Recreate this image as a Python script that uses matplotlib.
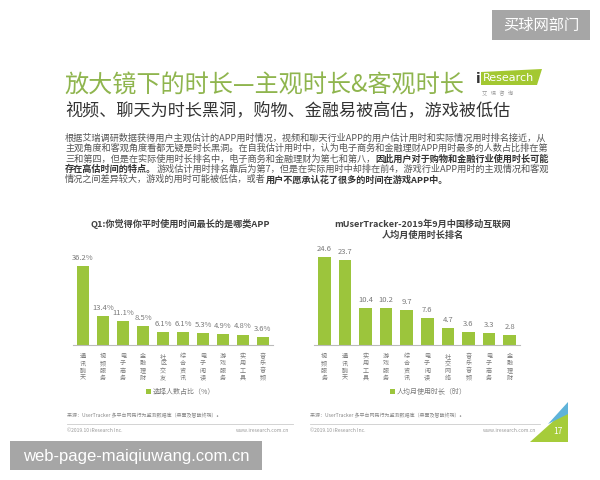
import matplotlib
matplotlib.use("Agg")
import matplotlib.pyplot as plt
from matplotlib.patches import Rectangle, Polygon

plt.rcParams['font.family'] = ['Noto Sans CJK SC', 'DejaVu Sans']

# data
q1_cats = ['通讯聊天', '视频服务', '电子商务', '金融理财', '社区交友',
           '综合资讯', '电子阅读', '游戏服务', '实用工具', '音乐音频']
q1_vals = [36.2, 13.4, 11.1, 8.5, 6.1, 6.1, 5.3, 4.9, 4.8, 3.6]

mut_cats = ['视频服务', '通讯聊天', '实用工具', '游戏服务', '综合资讯',
            '电子阅读', '社交网络', '音乐音频', '电子商务', '金融理财']
mut_vals = [24.6, 23.7, 10.4, 10.2, 9.7, 7.6, 4.7, 3.6, 3.3, 2.8]

title = '放大镜下的时长—主观时长&客观时长'
subtitle = '视频、聊天为时长黑洞，购物、金融易被高估，游戏被低估'
# paragraph lines: list of (text, bold) segments
para = [
    [('根据艾瑞调研数据获得用户主观估计的APP用时情况，视频和聊天行业APP的用户估计用时和实际情况用时排名接近，从', False)],
    [('主观角度和客观角度看都无疑是时长黑洞。在自我估计用时中，认为电子商务和金融理财APP用时最多的人数占比排在第', False)],
    [('三和第四，但是在实际使用时长排名中，电子商务和金融理财为第七和第八，', False),
     ('因此用户对于购物和金融行业使用时长可能', True)],
    [('存在高估时间的特点。', True),
     ('游戏估计用时排名靠后为第7，但是在实际用时中却排在前4，游戏行业APP用时的主观情况和客观', False)],
    [('情况之间差异较大，游戏的用时可能被低估，或者', False),
     ('用户不愿承认花了很多的时间在游戏APP中。', True)],
]
source = '来源：UserTracker 多平台网民行为监测数据库（桌面及智能终端）。'

green = '#9cc53c'
grey = '#7a7a7a'

fig = plt.figure(figsize=(6, 4.8), dpi=100)
fig.patch.set_facecolor('white')

# overlay in pixel coords
ov = fig.add_axes([0, 0, 1, 1])
ov.set_xlim(0, 600)
ov.set_ylim(480, 0)
ov.axis('off')

ov.text(64, 86, title, fontsize=17.4, color='#8fb54e', va='center')
ov.text(65, 110, subtitle, fontsize=12.3, color='#333333', va='center')

# logo
ov.add_patch(Polygon([(481, 72), (542, 69), (537, 85), (481, 85)],
                     closed=True, color='#a3c831', lw=0))
ov.text(478, 79, 'i', fontsize=10, color='#333333', va='center', ha='center',
        family='DejaVu Sans', fontweight='bold')
ov.text(483, 78, 'Research', fontsize=8, color='white', va='center',
        family='DejaVu Sans')
ov.text(482, 93, '艾   瑞   咨   询', fontsize=3.8, color='#999999', va='center')

# paragraph with bold segments
fig.canvas.draw()
r = fig.canvas.get_renderer()
y = 138
for line in para:
    x = 65
    for seg, b in line:
        t = ov.text(x, y, seg, fontsize=6.6, color='#555555' if not b else '#333333',
                    fontweight='bold' if b else 'normal', va='center')
        bb = t.get_window_extent(renderer=r)
        x = bb.x1
    y += 10.4

# chart titles
ov.text(180, 224, 'Q1:你觉得你平时使用时间最长的是哪类APP', fontsize=6.6,
        fontweight='bold', color='#404040', ha='center', va='center')
ov.text(423, 224, 'mUserTracker-2019年9月中国移动互联网', fontsize=6.6,
        fontweight='bold', color='#404040', ha='center', va='center')
ov.text(423, 235, '人均月使用时长排名', fontsize=6.6,
        fontweight='bold', color='#404040', ha='center', va='center')


def bar_chart(left_px, right_px, ymax, cats, vals, fmt):
    ax = fig.add_axes([left_px / 600, 1 - 345 / 480,
                       (right_px - left_px) / 600, 90 / 480])
    x = list(range(len(cats)))
    ax.bar(x, vals, width=0.62, color=green)
    ax.set_xlim(-0.5, len(cats) - 0.5)
    ax.set_ylim(0, ymax)
    for xi, v in zip(x, vals):
        ax.annotate(fmt.format(v), (xi, v), xytext=(0, 3), textcoords='offset points',
                    ha='center', va='bottom', fontsize=5.5, color=grey)
    ax.set_xticks(x)
    ax.set_xticklabels(['\n'.join(c) for c in cats], fontsize=4.4, color=grey,
                       linespacing=0.88)
    ax.tick_params(axis='x', length=0, pad=5)
    ax.set_yticks([])
    for s in ['top', 'right', 'left']:
        ax.spines[s].set_visible(False)
    ax.spines['bottom'].set_color('#bbbbbb')
    ax.spines['bottom'].set_linewidth(0.8)
    ax.patch.set_alpha(0)
    return ax


bar_chart(73, 273, 90 / 2.18, q1_cats, q1_vals, '{:.1f}%')
bar_chart(314, 520, 90 / 3.58, mut_cats, mut_vals, '{:.1f}')

# legends
ov.add_patch(Rectangle((146, 389), 5, 5, color=green, lw=0))
ov.text(153, 392, '选择人数占比（%）', fontsize=5, color=grey, va='center')
ov.add_patch(Rectangle((390, 389), 5, 5, color=green, lw=0))
ov.text(397, 392, '人均月使用时长（时）', fontsize=5, color=grey, va='center')

# sources / footers
for x0, x1 in [(67, 293), (310, 540)]:
    ov.text(x0, 416, source, fontsize=3.6, color='#888888', va='center')
    ov.plot([x0, x1], [424, 424], color='#cccccc', lw=0.6)
    ov.text(x0, 430, '©2019.10 iResearch Inc.', fontsize=3.6, color='#999999', va='center')
    ov.text(x1 - 4, 430, 'www.iresearch.com.cn', fontsize=3.6, color='#999999',
            va='center', ha='right')

# corner shape and page number
ov.add_patch(Polygon([(530, 442), (568, 408), (568, 442)], closed=True,
                     color='#a6cc3a', lw=0))
ov.add_patch(Polygon([(548, 424), (568, 402), (568, 414)], closed=True,
                     color='#5fb3d9', lw=0))
ov.text(558, 431, '17', fontsize=6, color='white', ha='center', va='center')

# watermarks
ov.add_patch(Rectangle((492, 10), 98, 30, color='#a6a6a6', lw=0))
ov.text(541, 25, '买球网部门', fontsize=11, color='white', ha='center', va='center')
ov.add_patch(Rectangle((10, 441), 252, 29, color='#a6a6a6', lw=0))
ov.text(136, 456, 'web-page-maiqiuwang.com.cn', fontsize=12, color='white',
        ha='center', va='center', family='Liberation Sans')

fig.savefig('out.png', dpi=100)
